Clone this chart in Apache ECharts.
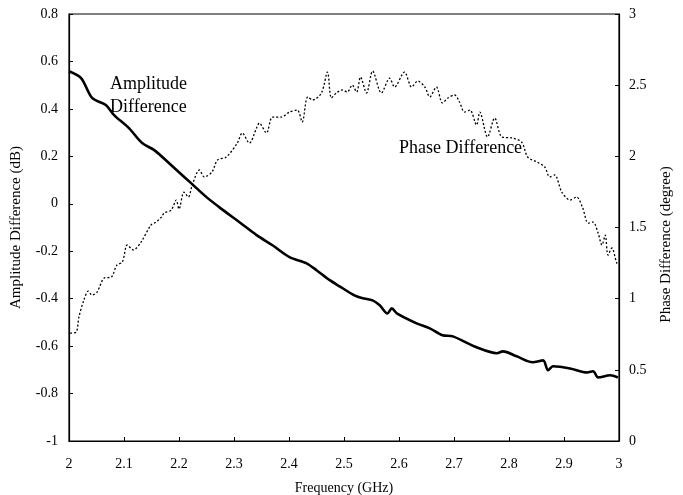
<!DOCTYPE html>
<html>
<head>
<meta charset="utf-8">
<script src="https://cdn.jsdelivr.net/npm/echarts@6/dist/echarts.min.js"></script>
<style>html,body{margin:0;padding:0;background:#fff}#c{width:683px;height:495px}</style>
</head>
<body>
<div id="c"></div>
<script>
// Amplitude difference (dB), solid line
var ampFreq = [2.000,2.022,2.042,2.067,2.082,2.109,2.133,2.155,2.182,2.200,2.222,2.250,2.273,2.310,2.341,2.370,2.401,2.432,2.450,2.474,2.492,2.519,2.534,2.552,2.565,2.579,2.587,2.596,2.632,2.656,2.679,2.698,2.741,2.778,2.789,2.814,2.843,2.862,2.871,2.880,2.911,2.942,2.953,2.962,2.984,2.998];
var ampVal  = [0.559,0.530,0.446,0.416,0.374,0.319,0.256,0.226,0.171,0.133,0.087,0.028,-0.014,-0.078,-0.132,-0.175,-0.225,-0.251,-0.280,-0.322,-0.348,-0.386,-0.398,-0.407,-0.428,-0.462,-0.441,-0.462,-0.504,-0.525,-0.554,-0.559,-0.605,-0.630,-0.622,-0.643,-0.668,-0.660,-0.702,-0.685,-0.694,-0.711,-0.706,-0.732,-0.723,-0.732];
// Phase difference (degree), dotted line
var phFreq = [2.002,2.013,2.018,2.027,2.035,2.042,2.051,2.064,2.077,2.087,2.097,2.106,2.117,2.131,2.149,2.158,2.168,2.173,2.186,2.195,2.200,2.209,2.217,2.224,2.237,2.246,2.260,2.270,2.286,2.306,2.315,2.328,2.341,2.346,2.359,2.370,2.386,2.401,2.415,2.424,2.434,2.443,2.459,2.470,2.477,2.486,2.497,2.506,2.515,2.523,2.530,2.541,2.552,2.568,2.583,2.592,2.610,2.623,2.634,2.647,2.656,2.668,2.679,2.689,2.701,2.710,2.719,2.729,2.741,2.747,2.761,2.774,2.787,2.805,2.823,2.834,2.851,2.865,2.874,2.883,2.896,2.911,2.923,2.934,2.944,2.953,2.962,2.969,2.975,2.980,2.987,2.996,3.000];
var phVal  = [0.758,0.765,0.871,0.990,1.053,1.025,1.046,1.145,1.152,1.236,1.257,1.377,1.342,1.398,1.517,1.538,1.573,1.602,1.623,1.693,1.630,1.749,1.714,1.798,1.904,1.855,1.890,1.974,1.995,2.093,2.164,2.093,2.199,2.234,2.164,2.276,2.276,2.311,2.325,2.241,2.417,2.396,2.445,2.592,2.410,2.445,2.466,2.452,2.501,2.452,2.557,2.445,2.599,2.445,2.550,2.487,2.592,2.487,2.529,2.487,2.417,2.487,2.375,2.410,2.431,2.382,2.311,2.325,2.220,2.311,2.136,2.269,2.136,2.129,2.100,1.995,1.960,1.925,1.855,1.869,1.749,1.693,1.714,1.637,1.531,1.538,1.461,1.377,1.447,1.306,1.356,1.250,1.236];

var xTicks = {min: 2, max: 3, interval: 0.1};
var leftTicks = {min: -1, max: 0.8, interval: 0.2};
var rightTicks = {min: 0, max: 3, interval: 0.5};

function zip(a, b) { return a.map(function (v, i) { return [v, b[i]]; }); }

var serif = '"Liberation Serif", "DejaVu Serif", serif';
var chart = echarts.init(document.getElementById('c'), null, {renderer: 'canvas'});
var axisCommon = {
  axisLine: {show: true, onZero: false, lineStyle: {color: '#000', width: 1.2}},
  axisTick: {show: true, inside: true, length: 4, lineStyle: {color: '#000'}},
  axisLabel: {color: '#000', fontFamily: serif, fontSize: 14},
  splitLine: {show: false},
  nameTextStyle: {color: '#000', fontFamily: serif, fontSize: 15}
};
chart.setOption({
  animation: false,
  backgroundColor: '#fff',
  grid: {left: 69, right: 64, top: 14, bottom: 54, containLabel: false, outerBoundsMode: 'none',
         show: true, borderColor: '#000', borderWidth: 1.2, backgroundColor: 'transparent'},
  xAxis: Object.assign({}, axisCommon, {
    type: 'value', min: xTicks.min, max: xTicks.max, interval: xTicks.interval,
    name: 'Frequency (GHz)', nameLocation: 'middle', nameGap: 40,
    nameTextStyle: {color: '#000', fontFamily: serif, fontSize: 14},
    axisLabel: Object.assign({}, axisCommon.axisLabel, {margin: 16})
  }),
  yAxis: [
    Object.assign({}, axisCommon, {
      type: 'value', position: 'left', min: leftTicks.min, max: leftTicks.max, interval: leftTicks.interval,
      name: 'Amplitude Difference (dB)', nameLocation: 'middle', nameGap: 45, nameRotate: 90,
      axisLabel: Object.assign({}, axisCommon.axisLabel, {margin: 11})
    }),
    Object.assign({}, axisCommon, {
      type: 'value', position: 'right', min: rightTicks.min, max: rightTicks.max, interval: rightTicks.interval,
      name: 'Phase Difference (degree)', nameLocation: 'middle', nameGap: 40, nameRotate: 90,
      nameTextStyle: {color: '#000', fontFamily: serif, fontSize: 15, padding: [0, 34, 0, 0]},
      axisLabel: Object.assign({}, axisCommon.axisLabel, {margin: 10})
    })
  ],
  series: [
    {
      type: 'line', name: 'Amplitude Difference', yAxisIndex: 0, data: zip(ampFreq, ampVal),
      showSymbol: false, smooth: 0.3, lineStyle: {color: '#000', width: 2.6}
    },
    {
      type: 'line', name: 'Phase Difference', yAxisIndex: 1, data: zip(phFreq, phVal),
      showSymbol: false, smooth: 0.3, lineStyle: {color: '#000', width: 1.3, type: [2, 2]}
    }
  ],
  graphic: [
    {type: 'text', left: 110, top: 73, style: {text: 'Amplitude\nDifference', font: '18px ' + serif, fill: '#000', lineHeight: 23}},
    {type: 'text', left: 399, top: 139, style: {text: 'Phase Difference', font: '18px ' + serif, fill: '#000'}}
  ]
});
</script>
</body>
</html>
